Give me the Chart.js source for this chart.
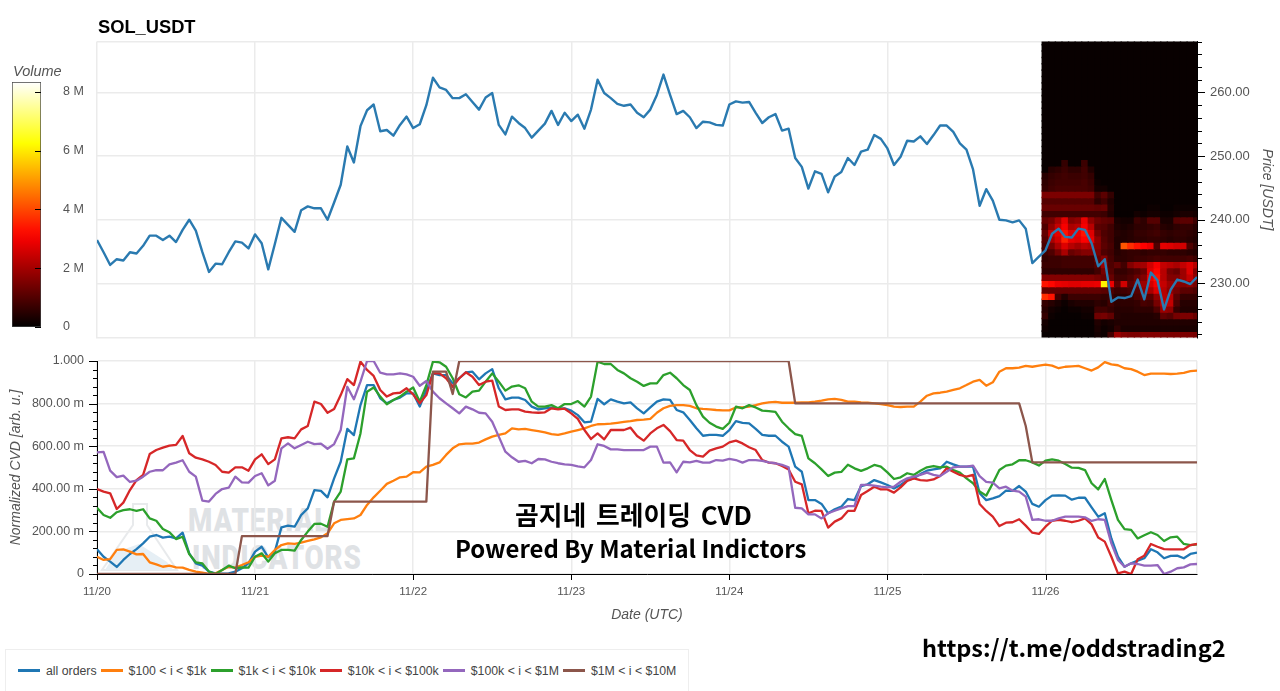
<!DOCTYPE html>
<html>
<head>
<meta charset="utf-8">
<title>SOL_USDT CVD</title>
<script src="https://cdn.jsdelivr.net/npm/chart.js@4/dist/chart.umd.min.js"></script>
<style>
  html, body { margin: 0; padding: 0; background: #fff; width: 1280px; height: 691px; overflow: hidden; font-family: "Liberation Sans", Arial, sans-serif; }
  canvas, .label, svg { position: absolute; }
  #priceChart { left: 0; top: 0; }
  #cvdChart { left: 0; top: 345px; }
  #volumeBar { left: 0; top: 60px; }
  .label { white-space: nowrap; }
  #title { left: 98px; top: 16px; font-size: 18.3px; font-weight: bold; color: #000; }
  #volumeTitle { left: 13px; top: 63px; font-size: 14.5px; font-style: italic; color: #555; }
  .mark { font-family: "Roboto", "Liberation Sans", sans-serif; font-weight: 900; font-size: 33px; color: #dfe2e5; letter-spacing: 1px; transform: scaleX(0.84); transform-origin: left; }
  .big { font-family: "Noto Sans CJK KR", sans-serif; font-weight: 700; font-size: 24px; color: #000; line-height: 30px; }
  #legend { position: absolute; left: 5px; top: 649px; width: 684px; height: 42px; border: 1px solid #eee; border-bottom: 0; box-sizing: border-box; display: flex; align-items: center; padding-left: 8px; font-size: 12.3px; color: #444; }
  #legend i { display: inline-block; width: 22px; height: 2.5px; margin: 0 6px 0 4px; }
</style>
</head>
<body>
<!-- watermark sits under the cvd canvas -->
<svg style="left:97px;top:500px" width="85" height="76">
  <path d="M36 4 H50 V25 L80 70 H5 L36 25 Z" fill="none" stroke="#e8eaec" stroke-width="2"/>
  <path d="M19 52 L42 44 L70 62 L76 70 H8 Z" fill="#e6eff5"/>
</svg>
<div class="label mark" id="mark1" style="left:188px;top:501px">MATERIAL</div>
<div class="label mark" id="mark2" style="left:192px;top:538px">INDICATORS</div>

<canvas id="priceChart" width="1280" height="345"></canvas>
<canvas id="cvdChart" width="1280" height="295"></canvas>
<canvas id="volumeBar" width="95" height="280"></canvas>

<div class="label" id="title">SOL_USDT</div>
<div class="label" id="volumeTitle">Volume</div>
<div class="label big" style="left:515px;top:499px;font-size:25.8px;word-spacing:4px">곰지네 트레이딩 CVD</div>
<div class="label big" style="left:455px;top:533px;font-size:23.9px">Powered By Material Indictors</div>
<div class="label big" style="left:922px;top:632px;font-size:23.5px">https://t.me/oddstrading2</div>
<div id="legend"></div>

<script>
// one value per hour, 11/20 00:00 to 11/26 23:00
const dayLabels = ["11/20", "11/21", "11/22", "11/23", "11/24", "11/25", "11/26"];

const priceValues = [
  236.8,234.9,232.9,233.8,233.6,234.9,234.7,235.9,237.5,237.5,236.8,237.5,236.5,238.4,240.0,238.3,234.9,231.8,233.1,233.0,234.9,236.6,236.4,235.5,
  237.7,236.3,232.2,236.2,240.3,239.2,238.1,241.5,242.1,241.8,241.8,240.0,242.7,245.5,251.5,249.0,254.7,257.2,258.1,253.9,254.1,253.2,254.9,256.2,
  254.4,255.0,258.0,262.3,260.8,260.4,259.1,259.1,259.7,258.5,257.3,259.2,259.9,254.9,253.4,256.2,255.2,254.4,252.9,254.0,255.1,257.1,254.9,256.8,
  255.5,256.5,254.3,257.3,262.0,259.9,259.1,258.2,257.9,258.1,256.8,256.1,257.3,259.6,262.8,259.6,256.6,257.1,256.1,254.4,255.4,255.3,254.9,254.8,
  258.1,258.6,258.4,258.5,256.8,255.2,256.1,256.6,254.0,254.3,249.7,248.3,244.9,247.6,247.2,244.3,246.8,247.5,249.7,248.6,250.7,251.0,253.3,252.7,
  251.2,248.6,249.9,252.4,252.3,253.1,251.9,253.3,254.8,254.8,253.8,252.0,251.0,247.9,242.2,244.8,243.0,240.0,239.9,239.6,239.9,238.6,233.2,234.2,
  235.2,237.8,238.6,237.3,237.2,238.6,238.4,236.3,232.7,233.8,227.1,227.8,227.7,228.0,230.6,227.5,231.7,230.5,225.9,229.0,230.6,230.3,229.9,231.0
];

const allOrders = [
  .116,.081,.058,.033,.066,.094,.117,.144,.175,.183,.171,.175,.167,.194,.097,.050,.039,.011,.003,.002,.003,.011,.027,.050,
  .105,.128,.078,.105,.219,.227,.222,.277,.308,.394,.390,.360,.449,.527,.681,.652,.793,.887,.887,.825,.801,.817,.828,.848,
  .848,.786,.864,.942,.934,.934,.895,.919,.947,.950,.914,.942,.962,.872,.820,.828,.828,.817,.786,.773,.778,.781,.778,.778,
  .767,.746,.712,.715,.822,.797,.820,.809,.801,.806,.778,.754,.782,.809,.820,.817,.770,.759,.723,.684,.649,.653,.653,.649,
  .676,.718,.710,.707,.681,.653,.649,.649,.621,.598,.504,.480,.347,.347,.329,.285,.304,.316,.352,.347,.413,.421,.441,.430,
  .418,.402,.418,.441,.449,.469,.485,.491,.496,.527,.515,.504,.504,.504,.379,.347,.355,.366,.391,.390,.413,.387,.329,.316,
  .347,.368,.369,.368,.349,.358,.358,.313,.269,.285,.167,.081,.034,.050,.063,.074,.116,.102,.074,.085,.086,.074,.094,.100
];
const orders100 = [
  .081,.066,.070,.113,.116,.105,.092,.094,.055,.045,.034,.039,.031,.030,.019,.011,.006,0,.003,.019,.034,.030,.042,.055,
  .081,.086,.081,.113,.136,.144,.141,.147,.155,.163,.172,.191,.238,.254,.258,.261,.277,.324,.360,.391,.423,.438,.454,.457,
  .478,.477,.504,.512,.524,.559,.590,.609,.612,.612,.617,.632,.645,.653,.660,.684,.679,.681,.676,.671,.665,.657,.653,.660,
  .668,.676,.684,.695,.703,.704,.706,.710,.714,.718,.723,.725,.728,.757,.778,.789,.793,.793,.789,.778,.775,.773,.770,.768,
  .768,.782,.782,.786,.793,.801,.806,.808,.804,.804,.804,.806,.806,.809,.814,.820,.822,.817,.809,.809,.806,.804,.801,.798,
  .793,.786,.784,.786,.786,.809,.837,.848,.851,.856,.864,.872,.887,.903,.911,.884,.900,.950,.966,.966,.969,.977,.973,.978,
  .983,.978,.966,.973,.975,.977,.966,.955,.970,.995,.984,.980,.966,.962,.950,.934,.941,.941,.941,.939,.941,.944,.952,.955
];
const orders1k = [
  .311,.277,.264,.290,.300,.304,.296,.304,.261,.250,.211,.196,.164,.175,.094,.055,.050,.011,0,.019,.039,.027,.031,.030,
  .081,.097,.058,.097,.113,.113,.110,.160,.199,.235,.236,.222,.340,.387,.538,.543,.660,.856,.876,.833,.797,.817,.833,.856,
  .876,.809,.887,.997,.994,.973,.919,.844,.829,.856,.861,.903,.942,.903,.861,.880,.886,.872,.809,.786,.786,.793,.778,.798,
  .798,.812,.786,.833,.997,.986,.986,.958,.942,.919,.903,.883,.895,.895,.934,.945,.919,.887,.864,.793,.739,.710,.692,.681,
  .710,.786,.778,.793,.782,.767,.765,.761,.715,.684,.657,.648,.543,.520,.491,.460,.476,.479,.513,.496,.484,.496,.512,.504,
  .477,.446,.454,.473,.465,.485,.501,.507,.501,.504,.488,.476,.449,.426,.387,.368,.426,.488,.509,.515,.534,.534,.524,.509,
  .532,.538,.532,.516,.499,.498,.488,.426,.397,.446,.347,.254,.211,.207,.167,.182,.196,.183,.155,.172,.175,.141,.136,.139
];
const orders10k = [
  .399,.387,.379,.305,.335,.394,.441,.465,.563,.582,.593,.603,.606,.648,.567,.546,.538,.527,.512,.480,.476,.501,.501,.485,
  .538,.562,.516,.538,.637,.642,.637,.679,.695,.809,.798,.757,.775,.840,.915,.887,.997,.958,.930,.864,.833,.848,.851,.872,
  .843,.801,.840,.942,.942,.919,.879,.919,.947,.926,.887,.903,.908,.786,.770,.773,.773,.762,.759,.757,.759,.778,.773,.776,
  .754,.728,.676,.634,.660,.632,.676,.676,.676,.687,.648,.626,.660,.684,.700,.671,.629,.626,.582,.557,.551,.579,.590,.598,
  .618,.626,.613,.595,.582,.535,.523,.520,.507,.491,.433,.421,.285,.297,.296,.218,.246,.261,.296,.297,.371,.390,.410,.397,
  .397,.382,.407,.437,.449,.441,.438,.444,.460,.496,.480,.465,.457,.465,.329,.296,.269,.225,.241,.243,.257,.227,.194,.188,
  .222,.250,.254,.250,.243,.250,.261,.233,.171,.152,.081,.003,.011,0,.069,.086,.141,.128,.117,.116,.116,.116,.136,.141
];
const orders100k = [
  .571,.573,.485,.455,.462,.432,.438,.457,.480,.488,.487,.515,.523,.534,.480,.457,.344,.340,.376,.399,.405,.457,.430,.429,
  .460,.473,.416,.438,.590,.613,.590,.606,.621,.610,.612,.588,.610,.676,.879,.820,.903,1,1,.945,.937,.937,.942,.937,
  .926,.884,.906,.856,.825,.801,.778,.754,.786,.773,.757,.754,.715,.645,.574,.548,.527,.531,.520,.540,.538,.527,.520,.515,
  .512,.505,.501,.535,.609,.601,.585,.585,.582,.582,.582,.582,.598,.598,.523,.524,.477,.527,.524,.531,.523,.523,.535,.532,
  .540,.535,.523,.535,.535,.531,.524,.520,.512,.501,.311,.308,.280,.280,.261,.285,.297,.308,.319,.319,.418,.418,.415,.410,
  .407,.410,.433,.449,.457,.465,.476,.465,.460,.480,.501,.504,.504,.509,.460,.433,.429,.402,.410,.391,.387,.363,.254,.257,
  .250,.250,.261,.269,.269,.269,.266,.249,.257,.254,.144,.066,.034,.050,.047,.039,.039,.042,0,.011,.027,.031,.045,.047
];
// the biggest bucket only moves in a few steps, so only its corners are listed
const orders1mHours = [0, 21, 22, 35, 36, 50, 51, 53, 54, 55, 105, 106, 140, 141, 142, 167];
const orders1mValues = [0, 0, .178, .178, .340, .340, .950, .950, .845, 1, 1, .801, .801, .695, .524, .524];

const seriesNames = ["all orders", "$100 < i < $1k", "$1k < i < $10k", "$10k < i < $100k", "$100k < i < $1M", "$1M < i < $10M"];
const seriesColors = ["#1f77b4", "#ff7f0e", "#2ca02c", "#d62728", "#9467bd", "#8c564b"];

// heatmap in millions: rows of price (low to high), columns are the hours of the last day
const heatHours = [144,145,146,147,148,149,150,151,152,153,154,155,156,157,158,159,160,161,162,163,164,165,166,167];
const heatPrices = [222,223,224,225,226,227,228,229,230,231,232,233,234,235,236,237,238,239,240,241,242,243,244,245,246,247,248,249,250,251,252,253,254,255,256,257,258,259,260,261,262,263,264,265,266,267,268];
const heatVolumes = [
  [.1,.1,.1,.1,.1,.1,.1,.1,.3,.2,1,2.4,2,1.9,1.9,2,2,2,1.9,1.9,1.9,1.9,1.9,1.8],
  [.2,.1,.1,.1,.1,.1,.1,.1,.4,.2,.3,.7,.4,.4,.4,.4,.4,.4,.4,.4,.4,.4,.4,.4],
  [.3,.1,.1,.1,.1,.1,.1,.1,.5,.3,.4,.5,.5,.5,.5,.5,.5,.5,.5,.5,.5,.5,.5,.5],
  [.8,.2,.1,.1,.1,.1,.2,.2,1.7,1.8,1.5,.6,.5,.5,.5,.5,.5,.6,1.5,1.3,1.8,1.9,1.9,1.6],
  [.6,.3,.2,.1,.2,.2,.3,.3,1,1,.8,.6,.6,.6,.7,.7,.7,1.2,2.4,2.2,.8,.5,.5,.5],
  [.8,.6,.4,.2,.4,.5,.5,.5,.7,.6,1,.7,.7,.7,.8,1.1,1,1.8,3,3,1.2,.6,.6,.6],
  [4.6,4.2,1,.5,.9,.9,.9,.9,.9,.8,.9,.7,.7,.8,1.1,1.5,1.4,2.2,2.8,2.8,1.4,.8,.8,.8],
  [1.5,1.5,1.5,1.5,1.5,1.5,1.5,1.5,1.5,1.4,1.2,.9,1,1.1,1.3,2.2,2.6,3.4,2.8,2.2,1.8,1.4,1.4,1.2],
  [4.2,4,3.6,3.5,3.4,3.4,3.5,3.5,3.6,7.6,3.6,1.4,3.2,1.4,1.8,2.4,3.2,3.8,3,2.4,2.2,2,2.2,1.8],
  [2,2,2,2,2,2,2,2,1.8,1.6,1.6,1,1,1.2,1.6,2,3.6,4.2,2.8,2,2,2.4,3,2.2],
  [.7,.7,.7,.7,.7,.7,.7,.7,1,1.8,1.3,.8,.8,1,1.2,1.6,3.4,4,2.8,1.8,1.6,2.4,3.4,2],
  [.9,.9,.9,1,1,1,1,1,1.3,2.4,1.2,1.5,1,2,2.4,2.5,3.2,3.8,3,2.8,2.6,3,3.4,2.8],
  [.8,.9,.9,1,1,1,1,1,1.6,2,1.1,.7,.7,.8,.9,.9,1,1.1,1,1,1,1,1.1,.9],
  [1,1.2,1.8,2.6,1.6,1.8,2,2,1.9,1.2,1,.6,.7,.8,.8,.7,.8,.8,.8,.7,.7,.7,.6,.5],
  [1.1,1.8,2.6,3.4,2.8,2.5,2.8,2.6,2.1,1.4,1.1,.5,5.2,4.6,4.2,3.9,3.6,1.2,3.5,3.4,3.2,3.2,1.2,.7],
  [1.3,2.6,3.2,4.4,3.6,3.4,3.9,3.6,2.2,1.3,1,.5,.5,.6,.7,.7,.8,.8,.7,.6,.7,.7,.6,.5],
  [1.5,3,3.5,4.2,3.4,3.6,4.2,3.4,1.8,1.2,1,.6,.5,.6,.8,.8,.9,1,.8,.7,.8,.8,.7,.6],
  [1.2,2.2,3,3.8,2.6,2.8,3.8,2.8,1.4,1.3,1,.5,.4,.5,.7,.7,.8,.9,.6,.5,.7,.8,.8,.6],
  [1.6,1.8,2.5,3.5,2,2.2,3.6,2.2,1.7,1.5,1.4,.4,.3,.3,.9,.7,1.3,1.3,.4,.4,1.3,1.4,1.4,.9],
  [1,1,1,1,1,1,1,1,1,.9,.5,.1,.1,.1,.3,.2,.3,.3,.2,.2,.3,.4,.4,.3],
  [1.6,1.6,1.6,1.6,1.6,1.6,1.6,1.6,1.5,1.6,.6,0,0,0,.1,.1,.2,.2,.1,.1,.2,.2,.2,.2],
  [1.3,1.3,1.3,1.3,1.3,1.3,1.3,1.3,.7,1,.5,0,0,0,0,0,0,0,0,0,0,0,0,0],
  [1.9,1.9,1.9,1.9,1.9,1.9,1.9,1.9,1,1.4,.8,0,0,0,0,0,0,0,0,0,0,0,0,0],
  [.8,1,1.1,1.1,1.1,1.1,1.1,1,.3,.3,0,0,0,0,0,0,0,0,0,0,0,0,0,0],
  [.7,.9,1,1,1,1,1.1,.9,.2,0,0,0,0,0,0,0,0,0,0,0,0,0,0,0],
  [.6,.8,.9,1,.9,.9,1,.8,0,0,0,0,0,0,0,0,0,0,0,0,0,0,0,0],
  [0,.6,.7,.9,.7,.7,1,.5,0,0,0,0,0,0,0,0,0,0,0,0,0,0,0,0],
  [0,0,0,.8,0,0,.9,0,0,0,0,0,0,0,0,0,0,0,0,0,0,0,0,0]
];
const volumeMax = 8.33;
const heatDim = 0.8; // coarse cells read brighter than the fine ones in the picture

const axisFont = { family: "Liberation Sans", size: 12.5 };
const titleFont = { family: "Liberation Sans", size: 14, style: "italic" };
const gridColor = "#ebebeb";
const textColor = "#555";

// black - red - yellow - white
function hotColor(t) {
  const c = (v) => Math.round(255 * Math.max(0, Math.min(1, v)));
  return `rgb(${c(t / 0.375)},${c((t - 0.375) / 0.375)},${c((t - 0.75) / 0.25)})`;
}

function toPoints(values) {
  return values.map((v, i) => ({ x: i, y: v }));
}

function lineSet(label, data, color, width, order) {
  return { type: "line", label, data, borderColor: color, borderWidth: width, pointRadius: 0, tension: 0, order, borderJoinStyle: "round" };
}

// the tick padding also eats plot height on vertical scales, drop that
function fixWidth(width) {
  return (scale) => {
    scale.width = width;
    scale.paddingTop = 0;
    scale.paddingBottom = 0;
  };
}

// chart.js has one tick length per axis, these axes need long and short ones
function tickPlugin(axisId, edgeName, side, majorLen, minorLen, isMajor) {
  return {
    id: "ticks_" + axisId + edgeName,
    afterDraw(chart) {
      const scale = chart.scales[axisId];
      const ctx = chart.ctx;
      ctx.save();
      ctx.strokeStyle = "#000";
      ctx.lineWidth = 1;
      scale.ticks.forEach((t) => {
        const len = isMajor(t.value) ? majorLen : minorLen;
        if (!len) return;
        const p = Math.round(scale.getPixelForValue(t.value)) + 0.5;
        const edge = scale[edgeName];
        ctx.beginPath();
        if (scale.isHorizontal()) {
          ctx.moveTo(p, edge);
          ctx.lineTo(p, edge + side * len);
        } else {
          ctx.moveTo(edge, p);
          ctx.lineTo(edge + side * len, p);
        }
        ctx.stroke();
      });
      ctx.restore();
    },
  };
}

const heatPoints = [];
const heatColors = [];
heatPrices.forEach((price, r) => {
  heatHours.forEach((hour, c) => {
    const v = heatVolumes[r] ? heatVolumes[r][c] : 0;
    heatPoints.push({ x: hour, y: price });
    heatColors.push(v === 0 ? "#080000" : hotColor((v * heatDim) / volumeMax));
  });
});

new Chart(document.getElementById("priceChart"), {
  data: {
    datasets: [
      lineSet("Price", toPoints(priceValues), "#2a7ab0", 2.4, 1),
      { type: "scatter", label: "Volume", data: heatPoints, pointStyle: "rect", pointRadius: 5.6, pointBorderWidth: 0, pointBackgroundColor: heatColors, order: 2 },
    ],
  },
  options: {
    responsive: false,
    animation: false,
    events: [],
    layout: { padding: { left: 97, top: 41.5, bottom: 7.5 } },
    plugins: { legend: { display: false }, tooltip: { enabled: false } },
    scales: {
      x: {
        type: "linear",
        min: 0,
        max: 167,
        afterFit: (scale) => { scale.height = 0; },
        ticks: { display: false, stepSize: 24, autoSkip: false, includeBounds: false },
        border: { color: gridColor, width: 1.5 },
        grid: { color: gridColor, lineWidth: 1.5, drawTicks: false },
      },
      y: {
        type: "linear",
        position: "right",
        min: 221.5,
        max: 268,
        afterFit: fixWidth(83),
        border: { color: "#000", width: 1 },
        grid: {
          drawTicks: false,
          lineWidth: 1.5,
          color: (c) => (c.tick.value % 10 === 0 || c.tick.value === 268 ? gridColor : "transparent"),
        },
        ticks: {
          stepSize: 2,
          autoSkip: false,
          includeBounds: false,
          padding: 13,
          color: textColor,
          font: { family: "Liberation Sans", size: 13 },
          callback: (v) => (v % 10 === 0 ? v.toFixed(2) : ""),
        },
        title: { display: true, text: "Price [USDT]", color: textColor, font: titleFont, padding: { top: 5, bottom: 0 } },
      },
    },
  },
  plugins: [tickPlugin("y", "left", 1, 8, 5, (v) => v % 10 === 0)],
});

new Chart(document.getElementById("cvdChart"), {
  data: {
    datasets: [
      lineSet(seriesNames[0], toPoints(allOrders), seriesColors[0], 2.3, 6),
      lineSet(seriesNames[1], toPoints(orders100), seriesColors[1], 2.3, 5),
      lineSet(seriesNames[2], toPoints(orders1k), seriesColors[2], 2.3, 4),
      lineSet(seriesNames[3], toPoints(orders10k), seriesColors[3], 2.3, 3),
      lineSet(seriesNames[4], toPoints(orders100k), seriesColors[4], 2.3, 2),
      lineSet(seriesNames[5], orders1mHours.map((h, i) => ({ x: h, y: orders1mValues[i] })), seriesColors[5], 2.3, 1),
    ],
  },
  options: {
    responsive: false,
    animation: false,
    events: [],
    layout: { padding: { top: 16, right: 83 } },
    plugins: { legend: { display: false }, tooltip: { enabled: false } },
    scales: {
      x: {
        type: "linear",
        min: 0,
        max: 167,
        afterFit: (scale) => { scale.height = 66; },
        border: { color: "#000", width: 1 },
        grid: { color: gridColor, lineWidth: 1.5, drawTicks: false },
        ticks: {
          stepSize: 24,
          autoSkip: false,
          maxRotation: 0,
          padding: 11,
          color: textColor,
          font: { family: "Liberation Sans", size: 11.5 },
          callback: (v) => (v % 24 === 0 ? dayLabels[v / 24] : ""),
        },
        title: { display: true, text: "Date (UTC)", color: textColor, font: titleFont, padding: { top: 0, bottom: 16 } },
      },
      y: {
        type: "linear",
        min: 0,
        max: 1,
        afterFit: fixWidth(97),
        border: { color: "#000", width: 1 },
        grid: {
          drawTicks: false,
          lineWidth: 1.5,
          color: (c) => (Math.round(c.tick.value * 1000) % 200 === 0 ? gridColor : "transparent"),
        },
        ticks: {
          stepSize: 0.04,
          autoSkip: false,
          padding: 13,
          color: textColor,
          font: axisFont,
          callback: (v) => {
            const m = Math.round(v * 1000);
            if (m % 200 !== 0) return "";
            if (m === 0) return "0";
            if (m === 1000) return "1.000";
            return m.toFixed(2) + " m";
          },
        },
        title: { display: true, text: "Normalized CVD [arb. u.]", color: textColor, font: titleFont, padding: { top: 8, bottom: 0 } },
      },
    },
  },
  plugins: [
    tickPlugin("y", "right", -1, 8, 4, (v) => Math.round(v * 1000) % 200 === 0),
    tickPlugin("x", "top", 1, 6, 0, (v) => v % 24 === 0),
  ],
});

new Chart(document.getElementById("volumeBar"), {
  type: "bar",
  data: {
    labels: ["Volume"],
    datasets: [
      {
        data: [[0, volumeMax]],
        barPercentage: 1,
        categoryPercentage: 1,
        borderWidth: 1,
        borderColor: "#444",
        borderSkipped: false,
        backgroundColor: (c) => {
          const area = c.chart.chartArea;
          if (!area) return "#000";
          const g = c.chart.ctx.createLinearGradient(0, area.bottom, 0, area.top);
          for (let i = 0; i <= 20; i++) g.addColorStop(i / 20, hotColor(i / 20));
          return g;
        },
      },
    ],
  },
  options: {
    responsive: false,
    animation: false,
    events: [],
    layout: { padding: { left: 12, top: 22, bottom: 13 } },
    plugins: { legend: { display: false }, tooltip: { enabled: false } },
    scales: {
      x: { display: false },
      y: {
        position: "right",
        min: 0,
        max: volumeMax,
        afterFit: fixWidth(54),
        border: { display: false },
        grid: { display: false },
        ticks: {
          stepSize: 2,
          autoSkip: false,
          includeBounds: false,
          padding: 14,
          color: textColor,
          font: axisFont,
          callback: (v) => (v === 0 ? "0" : v + " M"),
        },
      },
    },
  },
  plugins: [tickPlugin("y", "left", -1, 6, 6, (v) => v > 0)],
});

const legend = document.getElementById("legend");
seriesNames.forEach((name, i) => {
  legend.insertAdjacentHTML("beforeend", `<i style="background:${seriesColors[i]}"></i><span>${name}</span>`);
});
</script>
</body>
</html>
